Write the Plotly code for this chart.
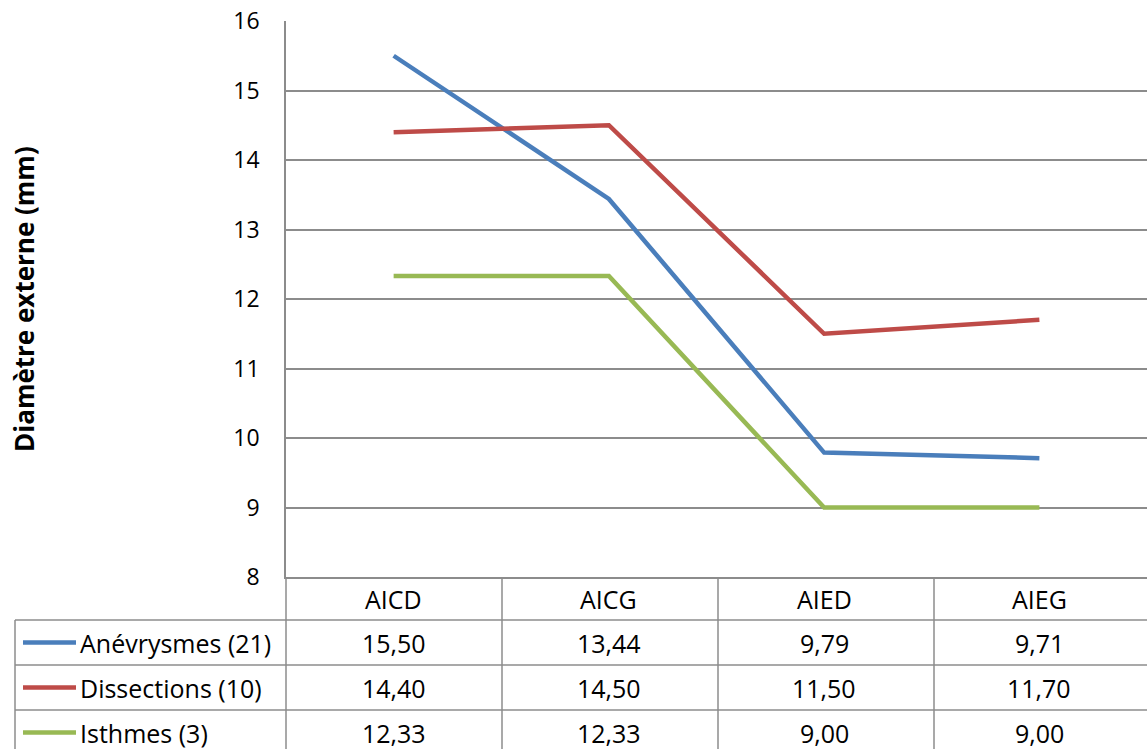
import plotly.graph_objects as go

# Categories and series values (mm)
categories = ["AICD", "AICG", "AIED", "AIEG"]
series_names = ["Anévrysmes (21)", "Dissections (10)", "Isthmes (3)"]
anevrysmes = [15.50, 13.44, 9.79, 9.71]
dissections = [14.40, 14.50, 11.50, 11.70]
isthmes = [12.33, 12.33, 9.00, 9.00]
y_ticks = [8, 9, 10, 11, 12, 13, 14, 15, 16]

series_values = [anevrysmes, dissections, isthmes]
series_colors = ["#4A7EBB", "#BE4B48", "#98B954"]

FONT = "'Open Sans', Lato, sans-serif"
GRID = "#8C8C8C"
W, H = 1147, 749

# Pixel layout of the plot area and the data table below it
PLOT_L, PLOT_T, PLOT_B = 286, 21, 577
TABLE_L = 15
ROW_EDGES = [577, 620, 665, 710, 755]
COL_EDGES = [286, 502, 718, 934]


def px(x):
    return x / W


def py(y):
    return 1 - y / H


def fmt(v):
    return f"{v:.2f}".replace(".", ",")


fig = go.Figure()
for name, vals, color in zip(series_names, series_values, series_colors):
    fig.add_trace(go.Scatter(
        x=list(range(len(categories))), y=vals, name=name, mode="lines",
        line=dict(color=color, width=4.5), hoverinfo="skip",
    ))

shapes = []
line_style = dict(color=GRID, width=1.5)
# horizontal table rules
for y in ROW_EDGES[1:]:
    shapes.append(dict(type="line", xref="paper", yref="paper",
                       x0=px(TABLE_L), x1=1, y0=py(y), y1=py(y), line=line_style))
# vertical table rules
shapes.append(dict(type="line", xref="paper", yref="paper",
                   x0=px(TABLE_L), x1=px(TABLE_L), y0=py(ROW_EDGES[1]), y1=0, line=line_style))
for x in COL_EDGES:
    shapes.append(dict(type="line", xref="paper", yref="paper",
                       x0=px(x), x1=px(x), y0=py(ROW_EDGES[0]), y1=0, line=line_style))

annotations = []
table_font = dict(family=FONT, size=25, color="#000000")
# header row: category names
for i, cat in enumerate(categories):
    annotations.append(dict(xref="x", yref="paper", x=i,
                            y=py((ROW_EDGES[0] + ROW_EDGES[1]) / 2),
                            text=cat, showarrow=False, font=table_font,
                            xanchor="center", yanchor="middle"))
# data rows: legend key, series name, values
for r, (name, vals, color) in enumerate(zip(series_names, series_values, series_colors)):
    yc = py((ROW_EDGES[r + 1] + ROW_EDGES[r + 2]) / 2)
    shapes.append(dict(type="line", xref="paper", yref="paper",
                       x0=px(23), x1=px(76), y0=yc, y1=yc,
                       line=dict(color=color, width=4.5)))
    annotations.append(dict(xref="paper", yref="paper", x=px(78), y=yc,
                            text=name, showarrow=False, font=table_font,
                            xanchor="left", yanchor="middle"))
    for i, v in enumerate(vals):
        annotations.append(dict(xref="x", yref="paper", x=i, y=yc,
                                text=fmt(v), showarrow=False, font=table_font,
                                xanchor="center", yanchor="middle"))

# rotated y-axis title
annotations.append(dict(xref="paper", yref="paper", x=px(24),
                        y=py((PLOT_T + PLOT_B) / 2),
                        text="<b>Diamètre externe (mm)</b>", textangle=-90,
                        showarrow=False, xanchor="center", yanchor="middle",
                        font=dict(family=FONT, size=26, color="#000000")))

fig.update_layout(
    width=W, height=H,
    margin=dict(l=0, r=0, t=0, b=0, autoexpand=False),
    paper_bgcolor="white", plot_bgcolor="white",
    showlegend=False, hovermode=False,
    shapes=shapes, annotations=annotations,
    xaxis=dict(domain=[px(PLOT_L), 1], range=[-0.5, len(categories) - 0.5],
               showticklabels=False, showgrid=False, zeroline=False,
               showline=True, linecolor=GRID, linewidth=1.5, ticks="",
               automargin=False),
    yaxis=dict(domain=[py(PLOT_B), py(PLOT_T)], range=[y_ticks[0], y_ticks[-1]],
               tickvals=y_ticks, ticktext=[str(t) for t in y_ticks],
               showgrid=True, gridcolor=GRID, gridwidth=1.5, zeroline=False,
               showline=True, linecolor=GRID, linewidth=1.5, ticks="",
               ticklabelstandoff=20, automargin=False,
               tickfont=dict(family=FONT, size=23, color="#000000")),
)

fig.write_html("out.html")
